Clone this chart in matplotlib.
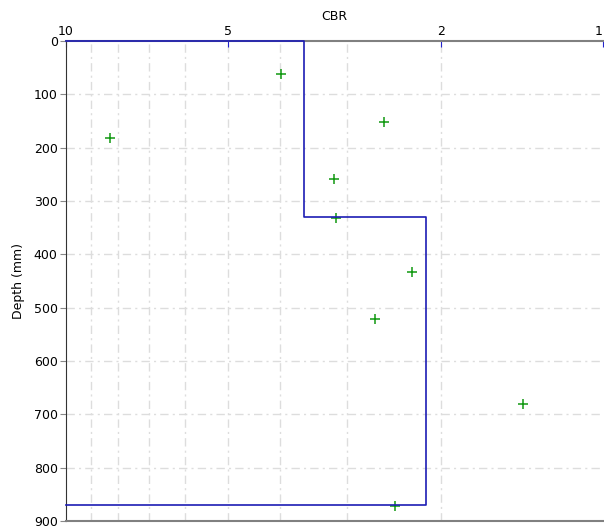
import numpy as np
import matplotlib.pyplot as plt
from matplotlib.ticker import FixedLocator, NullFormatter

# layer profile (CBR vs depth)
layer_cbr = [3.6, 2.14]
layer_top = [0, 330]
layer_bot = [330, 870]

# individual test readings
test_cbr = [3.98, 2.56, 8.28, 3.17, 3.14, 2.27, 2.66, 1.41, 2.44]
test_depth = [62, 152, 182, 259, 332, 434, 521, 681, 872]

xticks = [10, 5, 2, 1]
xgrid = [9, 8, 7, 6, 5, 4, 3, 2]
yticks = list(range(0, 1000, 100))

fig = plt.figure(figsize=(6.04, 5.28), dpi=100)
ax = fig.add_axes([66 / 604, 1 - 521 / 528, 537 / 604, 480 / 528])

# step outline of the layers, closed back to the left edge
px = [10]
py = [layer_top[0]]
for c, t, b in zip(layer_cbr, layer_top, layer_bot):
    px += [c, c]
    py += [t, b]
px.append(10)
py.append(layer_bot[-1])
ax.plot(px, py, color='#1c1cb4', lw=1.2, zorder=5, clip_on=False)

ax.scatter(test_cbr, test_depth, marker='+', s=55, color='#119911', lw=1.1, zorder=4)

ax.set_xscale('log')
ax.set_xlim(10, 1)
ax.set_ylim(900, 0)

ax.xaxis.set_ticks_position('top')
ax.xaxis.set_label_position('top')
ax.xaxis.set_major_locator(FixedLocator(xticks))
ax.xaxis.set_minor_locator(FixedLocator([]))
ax.xaxis.set_minor_formatter(NullFormatter())
ax.set_xticklabels([str(v) for v in xticks])
ax.tick_params(axis='x', direction='in', length=4, color='#2222cc', labelsize=9, pad=2)
ax.get_xticklabels()[-1].set_ha('right')
ax.set_xlabel('CBR', fontsize=9, labelpad=4)

ax.set_yticks(yticks)
ax.tick_params(axis='y', direction='out', length=4, color='#888888', labelsize=9, pad=2)
ax.set_ylabel('Depth (mm)', fontsize=9, labelpad=6)

# dash-dot grid
for g in xgrid:
    ax.axvline(g, color='#dddddd', lw=1, ls=(0, (6, 3, 1.5, 3)), zorder=1)
for g in yticks[1:-1]:
    ax.axhline(g, color='#dddddd', lw=1, ls=(0, (6, 3, 1.5, 3)), zorder=1)

ax.spines['right'].set_visible(False)
ax.spines['top'].set_color('#808080')
ax.spines['top'].set_linewidth(1.5)
ax.spines['bottom'].set_color('#808080')
ax.spines['bottom'].set_linewidth(1.5)
ax.spines['left'].set_color('#333333')

fig.savefig('out.png', dpi=100)
